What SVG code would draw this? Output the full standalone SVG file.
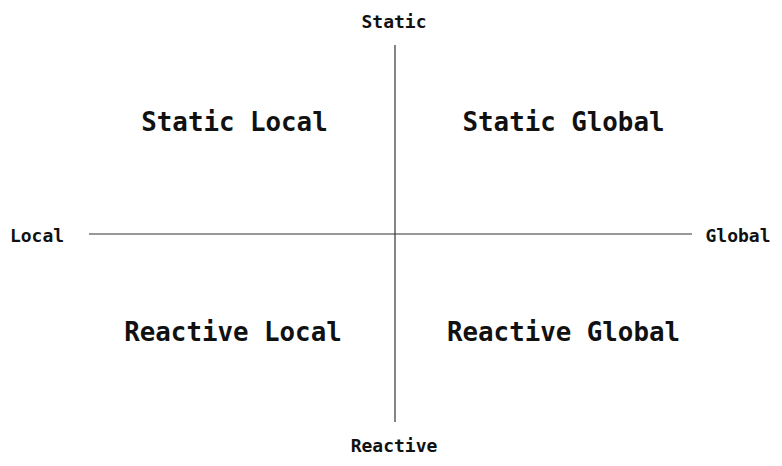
<svg xmlns="http://www.w3.org/2000/svg" width="782" height="466" viewBox="0 0 782 466">
<style>
.ax{stroke:#333;stroke-width:1.2;fill:none}
.s{font-family:"DejaVu Sans Mono","Liberation Mono",monospace;font-size:18px;font-weight:bold;fill:#111;text-anchor:middle}
.b{font-family:"DejaVu Sans Mono","Liberation Mono",monospace;font-size:25.8px;font-weight:bold;fill:#111;text-anchor:middle}
</style>
<rect width="782" height="466" fill="#fff"/>
<g id="connectors">
<line class="ax" x1="395" y1="45" x2="395" y2="422"/>
<line class="ax" x1="89" y1="234" x2="692" y2="234"/>
</g>
<g id="static"><text class="s" x="394" y="28">Static</text></g>
<g id="local"><text class="s" x="37" y="242">Local</text></g>
<g id="global"><text class="s" x="738" y="242">Global</text></g>
<g id="reactive"><text class="s" x="394" y="452">Reactive</text></g>
<g id="static-local"><text class="b" x="234.5" y="131">Static Local</text></g>
<g id="static-global"><text class="b" x="563.5" y="131">Static Global</text></g>
<g id="reactive-local"><text class="b" x="233" y="341">Reactive Local</text></g>
<g id="reactive-global"><text class="b" x="563.5" y="341">Reactive Global</text></g>
</svg>
